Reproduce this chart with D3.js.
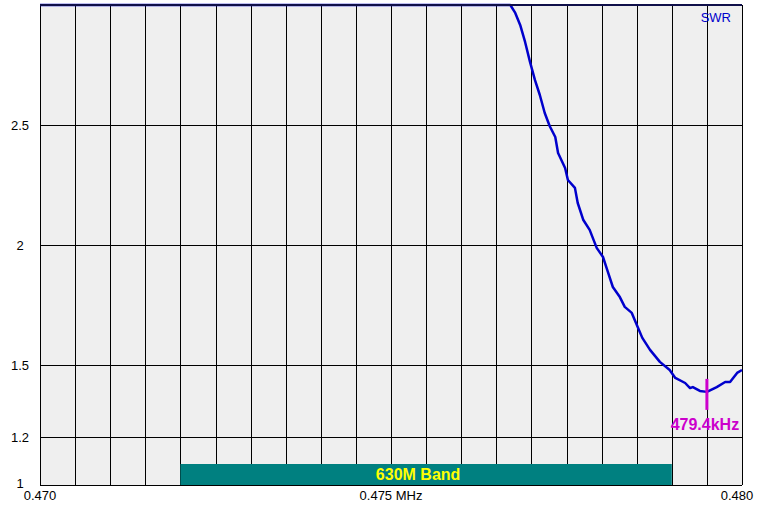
<!DOCTYPE html>
<html>
<head>
<meta charset="utf-8">
<script src="https://cdn.jsdelivr.net/npm/d3@7"></script>
<style>
  body { margin: 0; background: #fff; }
  svg text { font-family: "Liberation Sans", Arial, sans-serif; }
</style>
</head>
<body>
<div id="chart"></div>
<script>
// SWR sweep, frequency in kHz
var freqKHz = [470.0, 476.70, 476.77, 476.84, 476.91, 476.98, 477.05, 477.12, 477.19, 477.26, 477.34,
  477.38, 477.48, 477.52, 477.62, 477.66, 477.74, 477.83, 477.93, 478.02, 478.08, 478.16, 478.26,
  478.33, 478.43, 478.52, 478.58, 478.69, 478.83, 478.97, 479.05, 479.19, 479.26, 479.30, 479.40,
  479.50, 479.64, 479.76, 479.83, 479.93, 480.0];
var swrVals = [3.0, 3.0, 2.967, 2.917, 2.846, 2.763, 2.688, 2.625, 2.550, 2.496, 2.450,
  2.383, 2.321, 2.271, 2.238, 2.175, 2.104, 2.063, 1.988, 1.950, 1.896, 1.825, 1.783,
  1.742, 1.717, 1.654, 1.613, 1.563, 1.513, 1.479, 1.446, 1.425, 1.404, 1.408, 1.392,
  1.388, 1.408, 1.429, 1.429, 1.467, 1.479];
var yTicks = [1, 1.2, 1.5, 2, 2.5];
var xLabels = [{f: 470, t: "0.470"}, {f: 475, t: "0.475 MHz"}, {f: 480, t: "0.480"}];
var band = {start: 472, end: 479, label: "630M Band"};
var marker = {f: 479.5, swr: 1.388, label: "479.4kHz"};

var W = 765, H = 505;
var margin = {top: 5, right: 23, bottom: 20, left: 40};
var w = W - margin.left - margin.right, h = H - margin.top - margin.bottom;

var svg = d3.select("#chart").append("svg").attr("width", W).attr("height", H);
var g = svg.append("g").attr("transform", "translate(" + margin.left + "," + margin.top + ")");

var x = d3.scaleLinear().domain([470, 480]).range([0, w]);
var y = d3.scaleLinear().domain([1, 3]).range([h, 0]).clamp(true);

g.append("rect").attr("width", w).attr("height", h).attr("fill", "#efefef");

// grid
var vlines = d3.range(0, 21).map(function(i){ return 470 + i * 0.5; });
g.selectAll(".vg").data(vlines).enter().append("line")
  .attr("x1", function(d){ return Math.round(x(d)) + 0.5; })
  .attr("x2", function(d){ return Math.round(x(d)) + 0.5; })
  .attr("y1", 0).attr("y2", h)
  .attr("stroke", "#000").attr("stroke-width", 1);
g.selectAll(".hg").data(yTicks).enter().append("line")
  .attr("x1", 0).attr("x2", w)
  .attr("y1", function(d){ return Math.round(y(d)) + 0.5; })
  .attr("y2", function(d){ return Math.round(y(d)) + 0.5; })
  .attr("stroke", "#000").attr("stroke-width", 1);

// band bar
g.append("rect")
  .attr("x", x(band.start)).attr("y", h - 21)
  .attr("width", x(band.end) - x(band.start)).attr("height", 21)
  .attr("fill", "#008080");
g.append("text")
  .attr("x", (x(band.start) + x(band.end)) / 2 - 8).attr("y", h - 5)
  .attr("text-anchor", "middle").attr("font-size", "16px").attr("font-weight", "bold")
  .attr("fill", "#ffff00").text(band.label);

// curve
var pts = freqKHz.map(function(f, i){ return [f, swrVals[i]]; });
var line = d3.line().x(function(d){ return x(d[0]); }).y(function(d){ return y(d[1]); });
g.append("path").datum(pts).attr("d", line)
  .attr("fill", "none").attr("stroke", "#0000cc").attr("stroke-width", 2.5)
  .attr("stroke-linejoin", "round");

// top frame over the clipped part of the curve
g.append("line").attr("x1", 0).attr("x2", w).attr("y1", y(3)).attr("y2", y(3))
  .attr("stroke", "#10104a").attr("stroke-width", 2);

// marker
g.append("line")
  .attr("x1", x(marker.f)).attr("x2", x(marker.f))
  .attr("y1", y(marker.swr) - 13).attr("y2", y(marker.swr) + 18)
  .attr("stroke", "#cc00cc").attr("stroke-width", 3);
g.append("text")
  .attr("x", x(marker.f) - 2).attr("y", y(marker.swr) + 38)
  .attr("text-anchor", "middle").attr("font-size", "16px").attr("font-weight", "bold")
  .attr("fill", "#cc00cc").text(marker.label);

g.append("text").attr("x", w - 11).attr("y", 17)
  .attr("text-anchor", "end").attr("font-size", "13px").attr("fill", "#0000cc").text("SWR");

// axis labels
svg.selectAll(".yl").data(yTicks).enter().append("text")
  .attr("x", 20).attr("y", function(d){ return margin.top + y(d) + (d === 1 ? 3 : 5); })
  .attr("text-anchor", "middle").attr("font-size", "13px").attr("fill", "#000")
  .text(function(d){ return d; });
svg.selectAll(".xl").data(xLabels).enter().append("text")
  .attr("x", function(d, i){ return margin.left + x(d.f) - (i === 2 ? 5 : 0); })
  .attr("y", H - 5)
  .attr("text-anchor", "middle").attr("font-size", "13px").attr("fill", "#000")
  .text(function(d){ return d.t; });
</script>
</body>
</html>
